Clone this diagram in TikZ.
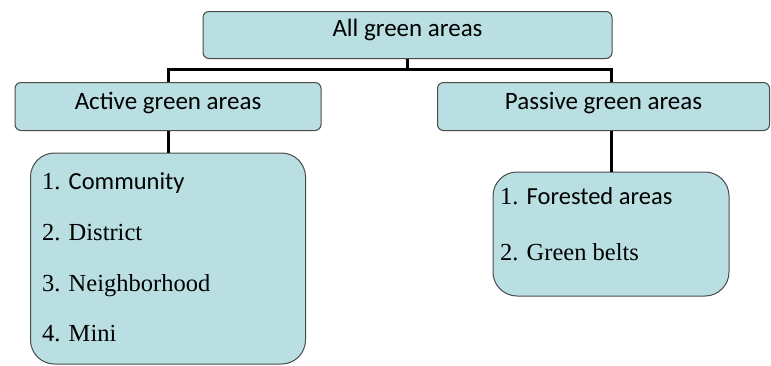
\documentclass[tikz,border=0pt]{standalone}
\usepackage{fontspec}
\setmainfont{Liberation Serif}
\newfontfamily\headfont{Carlito}
\definecolor{boxfill}{HTML}{B9DFE2}
\definecolor{boxline}{HTML}{4A4A4A}
\tikzset{
  greenbox/.style={draw=boxline, fill=boxfill, line width=1pt, rounded corners=6pt, inner sep=0pt},
  listbox/.style={greenbox, rounded corners=24pt},
  headtext/.style={font=\headfont\fontsize{25}{30}\selectfont, anchor=base},
  itemtext/.style={font=\fontsize{24.5}{29}\selectfont, anchor=base west, inner sep=0pt},
  branch/.style={line width=3pt}
}

\begin{document}
\begin{tikzpicture}[x=1pt, y=-1pt]
\useasboundingbox (0,0) rectangle (771,365); % fix page size
\coordinate (bar) at (0,69);
% boxes
\node[greenbox, minimum width=409pt, minimum height=47pt] (all) at (407.5,35) {};
\node[greenbox, minimum width=306pt, minimum height=48pt] (active) at (168,106.5) {};
\node[greenbox, minimum width=332pt, minimum height=48pt] (passive) at (603.5,106.5) {};
\node[listbox, minimum width=275pt, minimum height=211pt] (parks) at (168,258.5) {};
\node[listbox, minimum width=236pt, minimum height=124pt] (forest) at (611,234) {};
% headings
\node[headtext] (allT) at (407.5,36) {All green areas};
\node[headtext] (activeT) at (168,109) {Active green areas};
\node[headtext] (passiveT) at (603.5,109) {Passive green areas};
% items
\node[itemtext] (p1) at (42,189) {1. {\headfont Community}};
\node[itemtext] (p2) at (42,240) {2. District};
\node[itemtext] (p3) at (42,291) {3. Neighborhood};
\node[itemtext] (p4) at (42,341) {4. Mini};
\node[itemtext] (f1) at (500,204) {1. {\headfont Forested areas}};
\node[itemtext] (f2) at (500,260) {2. Green belts};
% connectors
\draw[branch] (all.south) -- (all.south |- bar);
\draw[branch] (active.north) -- (active.north |- bar) -- (forest.north |- bar)
              -- (forest.north |- passive.north);
\draw[branch] (active.south) -- (parks.north);
\draw[branch] (forest.north |- passive.south) -- (forest.north);
\end{tikzpicture}
\end{document}
